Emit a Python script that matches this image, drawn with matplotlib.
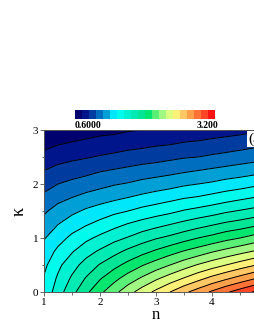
import numpy as np
import matplotlib
matplotlib.use('Agg')
import matplotlib.pyplot as plt
from matplotlib.colors import ListedColormap, BoundaryNorm

# grid of the field (n along columns, kappa along rows)
n_vals = [1.00, 1.25, 1.50, 1.75, 2.00, 2.25, 2.50, 2.75, 3.00,
          3.25, 3.50, 3.75, 4.00, 4.25, 4.50, 4.75, 5.00]
kappa_vals = [0.00, 0.25, 0.50, 0.75, 1.00, 1.25, 1.50,
              1.75, 2.00, 2.25, 2.50, 2.75, 3.00]
z_k000 = [1.41, 1.58, 1.73, 1.87, 2.00, 2.12, 2.24, 2.35, 2.45, 2.55, 2.65, 2.74, 2.83, 2.92, 3.00, 3.08, 3.16]
z_k025 = [1.39, 1.53, 1.66, 1.78, 1.89, 1.99, 2.09, 2.18, 2.27, 2.35, 2.43, 2.51, 2.59, 2.66, 2.73, 2.80, 2.87]
z_k050 = [1.35, 1.48, 1.59, 1.69, 1.78, 1.86, 1.94, 2.02, 2.09, 2.16, 2.23, 2.30, 2.36, 2.42, 2.48, 2.54, 2.60]
z_k075 = [1.30, 1.41, 1.50, 1.59, 1.66, 1.73, 1.80, 1.86, 1.92, 1.98, 2.04, 2.09, 2.15, 2.20, 2.25, 2.30, 2.35]
z_k100 = [1.24, 1.33, 1.41, 1.48, 1.54, 1.60, 1.65, 1.71, 1.76, 1.80, 1.85, 1.90, 1.94, 1.99, 2.03, 2.08, 2.12]
z_k125 = [1.17, 1.25, 1.32, 1.37, 1.42, 1.47, 1.52, 1.56, 1.60, 1.64, 1.68, 1.72, 1.76, 1.80, 1.83, 1.87, 1.91]
z_k150 = [1.10, 1.17, 1.22, 1.27, 1.31, 1.35, 1.38, 1.42, 1.45, 1.48, 1.52, 1.55, 1.58, 1.62, 1.65, 1.68, 1.71]
z_k175 = [1.02, 1.08, 1.12, 1.16, 1.19, 1.22, 1.25, 1.28, 1.31, 1.34, 1.37, 1.39, 1.42, 1.45, 1.48, 1.51, 1.54]
z_k200 = [0.94, 0.99, 1.02, 1.05, 1.08, 1.11, 1.13, 1.16, 1.18, 1.20, 1.23, 1.25, 1.27, 1.30, 1.32, 1.35, 1.37]
z_k225 = [0.86, 0.90, 0.93, 0.95, 0.98, 1.00, 1.02, 1.04, 1.06, 1.08, 1.10, 1.12, 1.14, 1.16, 1.18, 1.20, 1.22]
z_k250 = [0.77, 0.81, 0.83, 0.85, 0.87, 0.89, 0.91, 0.93, 0.94, 0.96, 0.98, 0.99, 1.01, 1.03, 1.05, 1.07, 1.09]
z_k275 = [0.69, 0.72, 0.74, 0.76, 0.78, 0.79, 0.81, 0.82, 0.84, 0.85, 0.87, 0.88, 0.90, 0.91, 0.93, 0.95, 0.96]
z_k300 = [0.61, 0.64, 0.66, 0.67, 0.69, 0.70, 0.72, 0.73, 0.74, 0.75, 0.77, 0.78, 0.79, 0.81, 0.82, 0.84, 0.85]

level_min, level_max, n_bands = 0.6, 3.2, 20
cbar_labels = ['0.6000', '3.200']
x_ticks = [1, 2, 3, 4]
y_ticks = [0, 1, 2, 3]

Z = np.array([z_k000, z_k025, z_k050, z_k075, z_k100, z_k125, z_k150,
              z_k175, z_k200, z_k225, z_k250, z_k275, z_k300])
N, K = np.meshgrid(n_vals, kappa_vals)

levels = np.linspace(level_min, level_max, n_bands + 1)
colors = [(0,0,110),(0,20,140),(0,60,160),(0,110,190),(0,160,215),(0,230,250),
          (0,250,235),(0,240,210),(0,235,180),(0,230,150),(0,230,110),(90,240,120),
          (160,248,130),(220,255,130),(255,240,120),(255,200,100),(255,160,75),
          (255,115,55),(255,70,40),(255,20,20)]
cmap = ListedColormap([tuple(c/255 for c in col) for col in colors])
norm = BoundaryNorm(levels, cmap.N)

plt.rcParams['font.family'] = ['Liberation Serif', 'DejaVu Serif']
fig = plt.figure(figsize=(2.55, 3.30), dpi=100)
ax = fig.add_axes([44/255, 38/330, 224/255, 162/330])
cf = ax.contourf(N, K, Z, levels=levels, cmap=cmap, norm=norm)
ax.contour(N, K, Z, levels=levels[1:-1], colors='k', linewidths=0.7)
ax.set_xlim(1, 5)
ax.set_ylim(0, 3)
ax.set_xticks(x_ticks)
ax.set_xticks(np.arange(1, 5.01, 0.5), minor=True)
ax.set_yticks(y_ticks)
ax.set_yticks(np.arange(0, 3.01, 0.5), minor=True)
ax.tick_params(which='major', direction='out', length=3, width=0.6, labelsize=8, pad=1, color='#555555')
ax.tick_params(which='minor', direction='out', length=1.8, width=0.6, color='#555555')
for s in ax.spines.values():
    s.set_color('#555555')
    s.set_linewidth(0.7)
ax.set_xlabel('n', fontsize=12, labelpad=0)
ax.set_ylabel('κ', fontsize=13, labelpad=4)

cax = fig.add_axes([75/255, (330-119)/330, 140/255, 9/330])
cb = fig.colorbar(cf, cax=cax, orientation='horizontal')
cb.set_ticks([])
cb.minorticks_off()
cax.tick_params(which='both', length=0, labelbottom=False)
cb.outline.set_visible(False)
fig.text(75/255, 1-126/330, cbar_labels[0], fontsize=7, fontweight='bold', ha='left', va='center')
fig.text(218/255, 1-126/330, cbar_labels[1], fontsize=7, fontweight='bold', ha='right', va='center')
fig.text(248/255, 1-139/330, '(a)', fontsize=11, ha='left', va='center',
         bbox=dict(facecolor='white', edgecolor='none', pad=1))

fig.savefig('out.png', dpi=100)
